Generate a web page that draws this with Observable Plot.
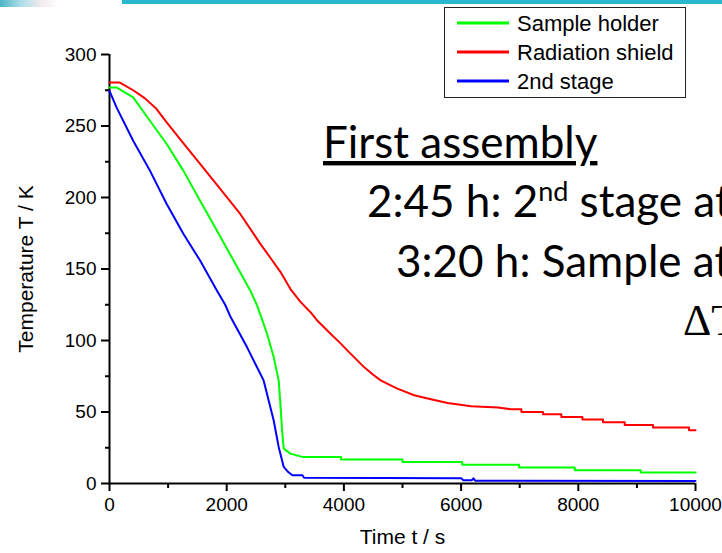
<!DOCTYPE html>
<html>
<head>
<meta charset="utf-8">
<script src="https://cdn.jsdelivr.net/npm/d3@7"></script>
<script src="https://cdn.jsdelivr.net/npm/@observablehq/plot@0.6"></script>
<style>
html, body { margin: 0; padding: 0; background: #fff; overflow: hidden; }
#wrap { position: relative; width: 722px; height: 553px; overflow: hidden; background: #fff; }
#topbar { position: absolute; left: 122px; top: 0; width: 600px; height: 4px; background: #27b8cd; }
#logo { position: absolute; left: 0; top: 0; width: 58px; height: 7px;
  background: linear-gradient(90deg, #4fb3c6 0%, #a8dde6 35%, #f3e9ee 70%, #ffffff 100%); }
#plot { position: absolute; left: 0; top: 0; }
#overlay { position: absolute; left: 0; top: 0; }
</style>
</head>
<body>
<div id="wrap">
  <div id="plot"></div>
  <div id="topbar"></div>
  <div id="logo"></div>
  <svg id="overlay" width="722" height="553"></svg>
</div>
<script>
// ---------- data ----------
const seriesNames = ["Sample holder", "Radiation shield", "2nd stage"];
const seriesColors = ["#00ff00", "#ff0000", "#0000ff"];

const sampleHolderTime = [0, 120, 404, 690, 976, 1260, 1546, 1832, 2117, 2402, 2517, 2602, 2688, 2802, 2887, 2916, 2945, 2973, 3087, 3288, 3950, 3950, 5000, 5000, 6020, 6020, 6990, 6990, 7940, 7940, 9065, 9065, 10000];
const sampleHolderTemp = [277, 277, 270, 253.7, 237.4, 218.8, 197.8, 176.9, 155.9, 135, 124.5, 115, 104.7, 88.4, 72.1, 55.9, 37.2, 24.4, 20.9, 18.6, 18.6, 16.7, 16.7, 15.1, 15.1, 13.1, 13.1, 11.2, 11.2, 9.3, 9.3, 7.7, 7.7];

const shieldTime = [0, 176, 404, 600, 800, 976, 1204, 1546, 1889, 2231, 2574, 2760, 2916, 3088, 3259, 3430, 3544, 3772, 3943, 4058, 4343, 4500, 4628, 4780, 4914, 5199, 5485, 5771, 6170, 6627, 6855, 7029, 7029, 7398, 7398, 7711, 7711, 8070, 8070, 8422, 8422, 8792, 8792, 9275, 9275, 9889, 9889, 10000];
const shieldTemp = [280.4, 280.4, 275, 269.5, 262, 252.5, 240.9, 223.5, 206, 188.5, 167.6, 157, 148, 136, 127, 119.8, 114, 104.7, 98, 93.1, 81.4, 76, 72.1, 69, 66.3, 61.7, 58.9, 56.3, 54, 53.1, 51.9, 51.9, 50.0, 50.0, 48.4, 48.4, 46.5, 46.5, 44.7, 44.7, 42.8, 42.8, 40.9, 40.9, 39.1, 39.1, 37.2, 37.2];

const stageTime = [0, 120, 404, 690, 976, 1260, 1546, 1832, 1974, 2060, 2346, 2630, 2801, 2887, 2973, 3050, 3121, 3292, 3320, 6000, 6040, 6180, 6210, 6240, 10000];
const stageTemp = [274.6, 263, 239.7, 218.8, 195.5, 174.6, 155.9, 135, 125, 117, 95.4, 72.1, 44.2, 25.6, 11.6, 8, 5.8, 5.8, 4.0, 3.6, 2.2, 2.2, 3.6, 2.0, 1.8];

const xTicks = [0, 2000, 4000, 6000, 8000, 10000];
const xMinorTicks = [1000, 3000, 5000, 7000, 9000];
const yTicks = [0, 50, 100, 150, 200, 250, 300];
const yMinorTicks = [25, 75, 125, 175, 225, 275];
const xLabel = "Time t / s";
const yLabel = "Temperature T / K";

// ---------- build table ----------
const seriesTimes = [sampleHolderTime, shieldTime, stageTime];
const seriesTemps = [sampleHolderTemp, shieldTemp, stageTemp];
const rows = [];
seriesNames.forEach((name, i) => {
  seriesTimes[i].forEach((t, j) => rows.push({series: name, t, T: seriesTemps[i][j]}));
});

const font = "'Liberation Sans', Arial, sans-serif";

const chart = Plot.plot({
  width: 722,
  height: 553,
  marginLeft: 109,
  marginRight: 27,
  marginTop: 54,
  marginBottom: 70,
  style: {fontFamily: font, background: "transparent", color: "#000", overflow: "visible"},
  x: {domain: [0, 10000], axis: null},
  y: {domain: [0, 300], axis: null},
  color: {domain: seriesNames, range: seriesColors},
  marks: [
    Plot.axisX(xMinorTicks, {tickSize: 5, text: null, strokeWidth: 2, stroke: "#000", label: null}),
    Plot.axisX(xTicks, {tickSize: 8, tickPadding: 6, fontSize: 19, strokeWidth: 2, stroke: "#000",
      fill: "#000", tickFormat: d => String(d), label: null}),
    Plot.axisY(yMinorTicks, {tickSize: 4, text: null, strokeWidth: 2, stroke: "#000", label: null}),
    Plot.axisY(yTicks, {tickSize: 8, tickPadding: 5, fontSize: 19, strokeWidth: 2, stroke: "#000",
      fill: "#000", tickFormat: d => String(d), label: null}),
    Plot.ruleX([0], {stroke: "#000", strokeWidth: 2}),
    Plot.ruleY([0], {stroke: "#000", strokeWidth: 2}),
    Plot.line(rows, {x: "t", y: "T", z: "series", stroke: "series", strokeWidth: 2, curve: "linear"}),
    Plot.text([yLabel], {frameAnchor: "left", rotate: -90, dx: -83, fontSize: 21, fill: "#000",
      textAnchor: "middle", lineAnchor: "middle"}),
    Plot.text([xLabel], {frameAnchor: "bottom", dy: 54, fontSize: 21, fill: "#000", lineAnchor: "middle"})
  ]
});
document.getElementById("plot").appendChild(chart);

// ---------- legend (built from the series arrays) ----------
const ov = d3.select("#overlay");
const lg = ov.append("g");
lg.append("rect").attr("x", 444.5).attr("y", 7.5).attr("width", 241).attr("height", 90)
  .attr("fill", "#fff").attr("stroke", "#222").attr("stroke-width", 1);
seriesNames.forEach((name, i) => {
  const cy = 23 + i * 29;
  lg.append("line").attr("x1", 457).attr("x2", 509).attr("y1", cy).attr("y2", cy)
    .attr("stroke", seriesColors[i]).attr("stroke-width", 3);
  lg.append("text").attr("x", 517).attr("y", cy).attr("dy", "0.35em")
    .attr("font-family", font).attr("font-size", 22).attr("fill", "#000").text(name);
});

// ---------- slide annotations ----------
const slideFont = "Lato, 'Open Sans', sans-serif";
const notes = ov.append("g").attr("font-family", slideFont).attr("font-size", 44).attr("fill", "#000");
notes.append("text").attr("x", 323).attr("y", 158).attr("text-decoration", "underline").text("First assembly");
const l2 = notes.append("text").attr("x", 367).attr("y", 217);
l2.append("tspan").text("2:45 h: 2");
l2.append("tspan").attr("baseline-shift", "super").attr("font-size", 27).text("nd");
l2.append("tspan").text(" stage at");
notes.append("text").attr("x", 396).attr("y", 277).text("3:20 h: Sample at");
notes.append("text").attr("x", 683).attr("y", 335).attr("font-family", "'Liberation Serif', serif").text("ΔT");
</script>
</body>
</html>
